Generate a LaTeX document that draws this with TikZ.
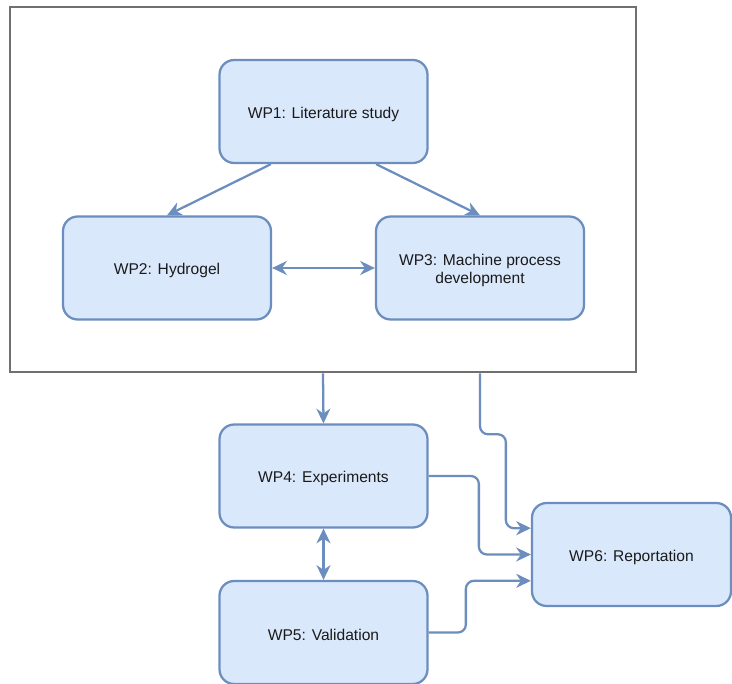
\documentclass[tikz,border=0pt]{standalone}
\usepackage{fontspec}
\setmainfont{Liberation Sans}
\usetikzlibrary{arrows.meta,calc}
\definecolor{wpfill}{HTML}{DAE8FC}
\definecolor{wpline}{HTML}{6C8EBF}
\definecolor{frameline}{HTML}{707070}
\definecolor{wptext}{HTML}{1A1A1A}
\begin{document}
\begin{tikzpicture}[x=0.75pt,y=-0.75pt,
  wpbox/.style={draw=wpline, fill=wpfill, line width=1.7pt, rounded corners=11pt,
    minimum width=208*0.75pt, minimum height=103*0.75pt, inner sep=0pt},
  wplabel/.style={align=center, text=wptext, inner sep=0pt,
    font=\fontsize{11.7}{14}\selectfont},
  framebox/.style={draw=frameline, line width=1.9pt, inner sep=0pt,
    minimum width=626*0.75pt, minimum height=365*0.75pt},
  link/.style={draw=wpline, line width=1.7pt, rounded corners=6pt,
    -{Stealth[length=11pt,width=10.5pt,inset=3.5pt]}},
  bilink/.style={draw=wpline, line width=1.7pt,
    {Stealth[length=11pt,width=10.5pt,inset=3.5pt]}-{Stealth[length=11pt,width=10.5pt,inset=3.5pt]}}
]
\useasboundingbox (0,0) rectangle (732,684);

% surrounding frame around WP1--WP3
\node[framebox] (outer) at (323,189.5) {};

% work packages
\node[wpbox] (wp1) at (323.5,111.5) {};
\node[wpbox] (wp2) at (167,268) {};
\node[wpbox] (wp3) at (480,268) {};
\node[wpbox] (wp4) at (323.5,476) {};
\node[wpbox] (wp5) at (323.5,632.5) {};
\node[wpbox, minimum width=199*0.75pt] (wp6) at (631.5,554.5) {};

% their titles, set slightly below the box centres
\node[wplabel] (wp1t) at ($(wp1)+(0,2.5)$) {WP1: Literature study};
\node[wplabel] (wp2t) at ($(wp2)+(0,2.5)$) {WP2: Hydrogel};
\node[wplabel] (wp3t) at ($(wp3)+(0,2.5)$) {WP3: Machine process\\development};
\node[wplabel] (wp4t) at ($(wp4)+(0,2.5)$) {WP4: Experiments};
\node[wplabel] (wp5t) at ($(wp5)+(0,2.5)$) {WP5: Validation};
\node[wplabel] (wp6t) at ($(wp6)+(0,2.5)$) {WP6: Reportation};

% connectors
\draw[link] ($(wp1.south west)!0.25!(wp1.south east)$) -- (wp2.north);
\draw[link] ($(wp1.south west)!0.75!(wp1.south east)$) -- (wp3.north);
\draw[bilink] (wp2.east) -- (wp3.west);
\draw[link] (outer.south) -- (wp4.north);
\draw[bilink] (wp4.south) -- (wp5.north);

\coordinate (frameout) at (wp3.center |- outer.south);
\coordinate (in6a) at ($(wp6.north west)!0.25!(wp6.south west)$);
\coordinate (in6b) at (wp6.west);
\coordinate (in6c) at ($(wp6.north west)!0.75!(wp6.south west)$);

\draw[link] (frameout) -- ++(0,61) -| ($(in6a)+(-25,0)$) -- (in6a);
\draw[link] (wp4.east) -| ($(in6b)+(-52,0)$) -- (in6b);
\draw[link] (wp5.east) -| ($(in6c)+(-65,0)$) -- (in6c);
\end{tikzpicture}
\end{document}
